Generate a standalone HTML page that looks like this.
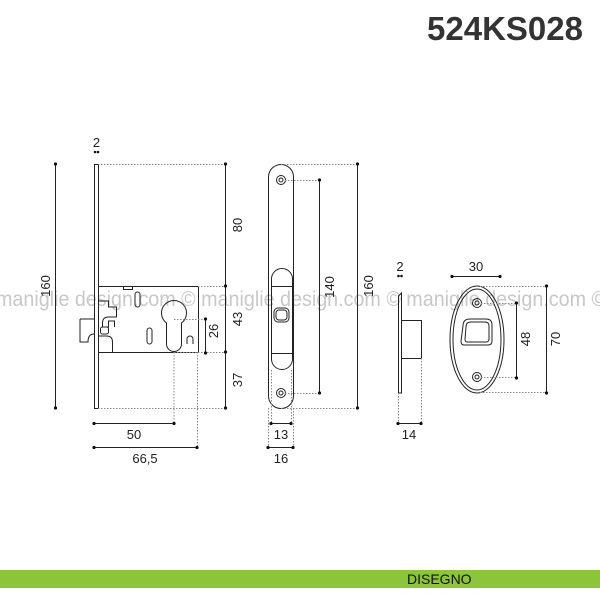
<!DOCTYPE html>
<html><head><meta charset="utf-8"><style>
body{margin:0;background:#fff}
svg{display:block}
text{font-family:"Liberation Sans",sans-serif}
</style></head><body>
<svg width="600" height="600" viewBox="0 0 600 600" xmlns="http://www.w3.org/2000/svg">
<rect width="600" height="600" fill="#fff"/>
<text x="583" y="40" text-anchor="end" font-size="33" font-weight="bold" fill="#333">524KS028</text>

<!-- watermark -->
<text x="-4" y="306" font-size="21" fill="#c8c8c8" textLength="610" lengthAdjust="spacingAndGlyphs">maniglie design.com © maniglie design.com © maniglie design.com ©</text>

<g fill="none" stroke="#222" stroke-width="1">
<!-- LEFT lock -->
<rect x="94.5" y="164.5" width="4" height="244"/>
<rect x="98.5" y="286.5" width="100" height="66"/>
<rect x="123.5" y="286.5" width="9" height="3"/>
<path d="M80 319 h14 M80 319 v23 h8 q0 -8 6 -8"/>
<path d="M98.5 301 h10 v6 h8 v10 h-8 q-6 0 -6 6 v4 h6 v-6 h6 v6" />
<rect x="100.5" y="327" width="8" height="7" rx="2"/>
<path d="M98.5 336 h8 q6 0 6 6 v10"/>
<rect x="135" y="292" width="5" height="15" rx="2.5"/>
<rect x="147" y="328" width="5" height="16" rx="2.5"/>
<path d="M166.5 344 a7.5 7.5 0 0 0 15 0 v-21 a12.5 12.5 0 1 0 -15 0 z"/>
<path d="M187 344 v-5 a3 3 0 0 1 6 0 v5"/>
<!-- faceplate 2 -->
<rect x="268.5" y="164.5" width="25" height="244" rx="12.5"/>
<rect x="271.5" y="268.5" width="21" height="101" rx="10.5"/>
<path d="M271.5 286.5 h21 M271.5 353.5 h21"/>
<rect x="274" y="308" width="15" height="14" rx="4"/>
<rect x="276" y="310" width="11" height="10" rx="3"/>
<circle cx="281" cy="180" r="4.5"/><circle cx="281" cy="180" r="2"/>
<circle cx="281" cy="393" r="4.5"/><circle cx="281" cy="393" r="2"/>
<!-- strike side -->
<path d="M398.5 296 l3 -3 v100 h-3 z"/>
<rect x="401.5" y="320.5" width="20" height="38"/>
<!-- strike front -->
<ellipse cx="477" cy="339.5" rx="27" ry="53.5"/>
<ellipse cx="477" cy="339.5" rx="24" ry="50.5"/>
<path d="M463 326 q0 -7 7 -7 h16 q6 0 6 6 v16 q0 4 -4 4 h-24 q-3 0 -3 -4 z"/>
<path d="M466 327 q0 -5 5 -5 h14 q4 0 4 4 v13 q0 3 -3 3 h-19 q-2 0 -2 -3 z"/>
<circle cx="477" cy="303" r="4.5"/><circle cx="477" cy="303" r="2"/>
<circle cx="477" cy="377" r="4.5"/><circle cx="477" cy="377" r="2"/>
</g>

<!-- dimension lines -->
<g stroke="#222" stroke-width="1" fill="none">
<path d="M55.5 164 v244 M225.5 164 v244 M94 423.5 h80 M94 447.5 h103 M205.5 319 v34"/>
<path d="M319.5 180 v213 M357.5 164 v244 M271 423.5 h20 M268 447.5 h25"/>
<path d="M398 423.5 h23 M452 276.5 h48 M516.5 303 v75 M546.5 286 v107"/>
</g>
<g stroke="#888" stroke-width="1" stroke-dasharray="1.5,1.5" fill="none">
<path d="M98 164.5 h127 M98 408.5 h127 M198 286.5 h27 M198 352.5 h27 M174 319.5 h31 M174 352.5 h31 M174 352 v71 M197.5 352 v95"/>
<path d="M285 180.5 h34 M285 393.5 h34 M281 164.5 h76 M281 408.5 h76 M271.5 370 v54 M291.5 370 v54 M268.5 408 v40 M293.5 408 v40"/>
<path d="M398.5 393 v31 M421.5 358 v66 M481 303.5 h35 M481 377.5 h35 M477 286.5 h69 M477 392.5 h69"/>
</g>
<g fill="#111">
<circle cx="55.5" cy="164" r="1.6"/><circle cx="55.5" cy="408" r="1.6"/>
<circle cx="225.5" cy="164" r="1.6"/><circle cx="225.5" cy="286" r="1.6"/><circle cx="225.5" cy="352" r="1.6"/><circle cx="225.5" cy="408" r="1.6"/>
<circle cx="205.5" cy="319" r="1.6"/><circle cx="205.5" cy="353" r="1.6"/>
<circle cx="94" cy="423.5" r="1.6"/><circle cx="174" cy="423.5" r="1.6"/>
<circle cx="94" cy="447.5" r="1.6"/><circle cx="197" cy="447.5" r="1.6"/>
<circle cx="95" cy="152" r="1.3"/><circle cx="98" cy="152" r="1.3"/>
<circle cx="319.5" cy="180" r="1.6"/><circle cx="319.5" cy="393" r="1.6"/>
<circle cx="357.5" cy="164" r="1.6"/><circle cx="357.5" cy="408" r="1.6"/>
<circle cx="271" cy="423.5" r="1.6"/><circle cx="291" cy="423.5" r="1.6"/>
<circle cx="268" cy="447.5" r="1.6"/><circle cx="293" cy="447.5" r="1.6"/>
<circle cx="398.5" cy="276" r="1.3"/><circle cx="401.5" cy="276" r="1.3"/>
<circle cx="398" cy="423.5" r="1.6"/><circle cx="421" cy="423.5" r="1.6"/>
<circle cx="452" cy="276.5" r="1.6"/><circle cx="500" cy="276.5" r="1.6"/>
<circle cx="516.5" cy="303" r="1.6"/><circle cx="516.5" cy="378" r="1.6"/>
<circle cx="546.5" cy="286" r="1.6"/><circle cx="546.5" cy="393" r="1.6"/>
</g>

<g font-size="13" fill="#222">
<text x="96.5" y="147" text-anchor="middle">2</text>
<text x="400" y="271" text-anchor="middle">2</text>
<text x="134" y="439" text-anchor="middle">50</text>
<text x="145" y="463" text-anchor="middle">66,5</text>
<text x="281" y="439" text-anchor="middle">13</text>
<text x="281" y="463" text-anchor="middle">16</text>
<text x="409" y="439" text-anchor="middle">14</text>
<text x="476" y="271" text-anchor="middle">30</text>
<g text-anchor="middle">
<text transform="translate(50,286) rotate(-90)">160</text>
<text transform="translate(242,225) rotate(-90)">80</text>
<text transform="translate(242,319) rotate(-90)">43</text>
<text transform="translate(242,380) rotate(-90)">37</text>
<text transform="translate(218,331) rotate(-90)">26</text>
<text transform="translate(334,287) rotate(-90)">140</text>
<text transform="translate(373,286) rotate(-90)">160</text>
<text transform="translate(530,339) rotate(-90)">48</text>
<text transform="translate(560,339) rotate(-90)">70</text>
</g>
</g>

<rect x="0" y="570" width="600" height="18" fill="#8cc43a"/>
<text x="407" y="584" font-size="14" fill="#111">DISEGNO</text>
</svg>
</body></html>
